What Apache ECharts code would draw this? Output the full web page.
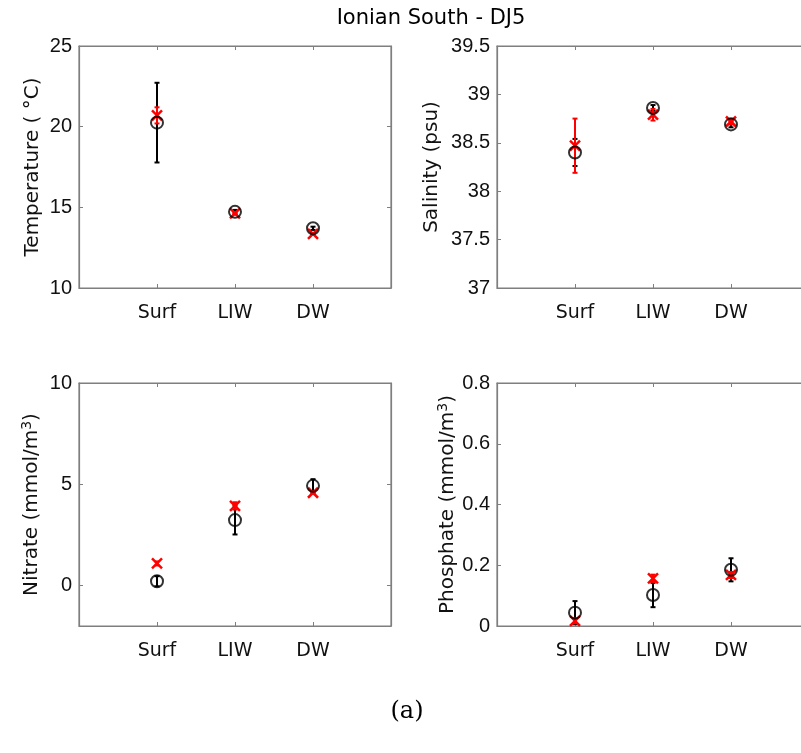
<!DOCTYPE html>
<html>
<head>
<meta charset="utf-8">
<script src="https://cdn.jsdelivr.net/npm/echarts@6/dist/echarts.min.js"></script>
<style>
  html, body { margin: 0; padding: 0; background: #fff; }
  #chart { width: 801px; height: 753px; }
</style>
</head>
<body>
<div id="chart"></div>
<script>
// Water masses along the x axis (placed at x = 1, 2, 3)
const categories = ['Surf', 'LIW', 'DW'];

// Observations (black circles) and their standard deviation
const tempObs = [20.25, 14.72, 13.70];
const tempObsSd = [2.47, 0.12, 0.10];
// Model (red crosses) and its standard deviation
const tempMod = [20.70, 14.62, 13.35];
const tempModSd = [0.50, 0.08, 0.05];

const salObs = [38.40, 38.86, 38.69];
const salObsSd = [0.14, 0.03, 0.03];
const salMod = [38.47, 38.79, 38.72];
const salModSd = [0.28, 0.06, 0.03];

const nitObs = [0.21, 3.23, 4.92];
const nitObsSd = [0.25, 0.71, 0.33];
const nitMod = [1.09, 3.93, 4.58];
const nitModSd = [0.10, 0.18, 0.05];

const phoObs = [0.044, 0.102, 0.185];
const phoObsSd = [0.038, 0.040, 0.038];
const phoMod = [0.017, 0.157, 0.168];
const phoModSd = [0.008, 0.012, 0.010];

// Tick labels on each y axis
const tempTicks = [10, 15, 20, 25];
const salTicks = [37, 37.5, 38, 38.5, 39, 39.5];
const nitTicks = [0, 5, 10];
const phoTicks = [0, 0.2, 0.4, 0.6, 0.8];

const panels = [
  { name: 'Temperature ( °C)', min: 10, max: 25, ticks: tempTicks, obs: tempObs, obsSd: tempObsSd, mod: tempMod, modSd: tempModSd, gap: 36 },
  { name: 'Salinity (psu)', min: 37, max: 39.5, ticks: salTicks, obs: salObs, obsSd: salObsSd, mod: salMod, modSd: salModSd, gap: 55 },
  { name: 'Nitrate (mmol/m{sup|3})', min: -2, max: 10, ticks: nitTicks, obs: nitObs, obsSd: nitObsSd, mod: nitMod, modSd: nitModSd, gap: 36 },
  { name: 'Phosphate (mmol/m{sup|3})', min: 0, max: 0.8, ticks: phoTicks, obs: phoObs, obsSd: phoObsSd, mod: phoMod, modSd: phoModSd, gap: 38 }
];

const grids = [
  { left: 79, top: 46, width: 312, height: 242 },
  { left: 497, top: 46, width: 312, height: 242 },
  { left: 79, top: 383, width: 312, height: 243 },
  { left: 497, top: 383, width: 312, height: 243 }
];

const boxColor = '#7f7f7f';
const textColor = '#111';
const tickFont = { fontFamily: 'Liberation Sans', fontSize: 20, color: textColor };
const catFont = { fontFamily: 'DejaVu Sans', fontSize: 19, color: textColor };

const xAxes = [];
const yAxes = [];
const series = [];

function errorBarSeries(gi, mean, sd, color) {
  return {
    type: 'custom',
    xAxisIndex: gi * 2, yAxisIndex: gi * 2,
    data: mean.map((m, i) => [i + 1, m - sd[i], m + sd[i]]),
    renderItem: (params, api) => {
      const lo = api.coord([api.value(0), api.value(1)]);
      const hi = api.coord([api.value(0), api.value(2)]);
      const cap = 2.5;
      const st = { stroke: color, lineWidth: 2 };
      return {
        type: 'group',
        children: [
          { type: 'line', shape: { x1: lo[0], y1: lo[1], x2: hi[0], y2: hi[1] }, style: st },
          { type: 'line', shape: { x1: lo[0] - cap, y1: lo[1], x2: lo[0] + cap, y2: lo[1] }, style: st },
          { type: 'line', shape: { x1: hi[0] - cap, y1: hi[1], x2: hi[0] + cap, y2: hi[1] }, style: st }
        ]
      };
    },
    silent: true,
    animation: false
  };
}

function crossSeries(gi, mean, color) {
  return {
    type: 'custom',
    xAxisIndex: gi * 2, yAxisIndex: gi * 2,
    data: mean.map((m, i) => [i + 1, m]),
    renderItem: (params, api) => {
      const p = api.coord([api.value(0), api.value(1)]);
      const s = 5;
      const st = { stroke: color, lineWidth: 2.5 };
      return {
        type: 'group',
        children: [
          { type: 'line', shape: { x1: p[0] - s, y1: p[1] - s, x2: p[0] + s, y2: p[1] + s }, style: st },
          { type: 'line', shape: { x1: p[0] - s, y1: p[1] + s, x2: p[0] + s, y2: p[1] - s }, style: st }
        ]
      };
    },
    silent: true,
    animation: false
  };
}

panels.forEach((p, gi) => {
  const tick = { show: true, inside: true, length: 4, lineStyle: { color: boxColor, width: 1 } };
  const line = { show: true, onZero: false, lineStyle: { color: boxColor, width: 1.2 } };
  // bottom axis with water-mass labels
  xAxes.push({
    gridIndex: gi, type: 'value', min: 0, max: 4, interval: 1,
    axisLine: line, axisTick: Object.assign({ customValues: [1, 2, 3] }, tick), splitLine: { show: false },
    axisLabel: Object.assign({ margin: 16, customValues: [1, 2, 3], formatter: v => categories[v - 1] || '' }, catFont)
  });
  // top mirror axis (ticks only)
  xAxes.push({
    gridIndex: gi, type: 'value', position: 'top', min: 0, max: 4, interval: 1,
    axisLine: line, axisTick: Object.assign({ customValues: [1, 2, 3] }, tick), splitLine: { show: false }, axisLabel: { show: false }
  });
  yAxes.push({
    gridIndex: gi, type: 'value', min: p.min, max: p.max,
    axisLine: line, axisTick: Object.assign({ customValues: p.ticks }, tick), splitLine: { show: false },
    axisLabel: Object.assign({ margin: 7, customValues: p.ticks, formatter: v => String(+v.toFixed(1)) }, tickFont),
    name: p.name, nameLocation: 'middle', nameGap: p.gap, nameRotate: 90,
    nameTextStyle: {
      fontFamily: 'DejaVu Sans', fontSize: 20, color: textColor,
      rich: { sup: { fontFamily: 'DejaVu Sans', fontSize: 14, color: textColor, verticalAlign: 'top', padding: [0, 0, 9, 0] } }
    }
  });
  yAxes.push({
    gridIndex: gi, type: 'value', position: 'right', min: p.min, max: p.max,
    axisLine: line, axisTick: Object.assign({ customValues: p.ticks }, tick), splitLine: { show: false }, axisLabel: { show: false }
  });

  series.push(errorBarSeries(gi, p.obs, p.obsSd, '#000'));
  series.push({
    type: 'scatter', xAxisIndex: gi * 2, yAxisIndex: gi * 2,
    data: p.obs.map((m, i) => [i + 1, m]),
    symbol: 'circle', symbolSize: 12,
    itemStyle: { color: 'rgba(0,0,0,0)', borderColor: '#000', borderWidth: 2 },
    silent: true, animation: false
  });
  series.push(errorBarSeries(gi, p.mod, p.modSd, '#ff0000'));
  series.push(crossSeries(gi, p.mod, '#ff0000'));
});

const chart = echarts.init(document.getElementById('chart'), null, { renderer: 'canvas' });
chart.setOption({
  backgroundColor: '#fff',
  animation: false,
  title: [
    { text: 'Ionian South - DJ5', left: 426, top: 3, textAlign: 'center',
      textStyle: { fontFamily: 'DejaVu Sans', fontSize: 21, fontWeight: 'normal', color: '#000' } },
    { text: '(a)', left: 402, top: 695, textAlign: 'center',
      textStyle: { fontFamily: 'DejaVu Serif', fontSize: 24, fontWeight: 'normal', color: '#000' } }
  ],
  grid: grids.map(g => Object.assign({ show: true, borderColor: boxColor, borderWidth: 1.2, outerBoundsMode: 'none' }, g)),
  xAxis: xAxes,
  yAxis: yAxes,
  series: series
});
</script>
</body>
</html>
